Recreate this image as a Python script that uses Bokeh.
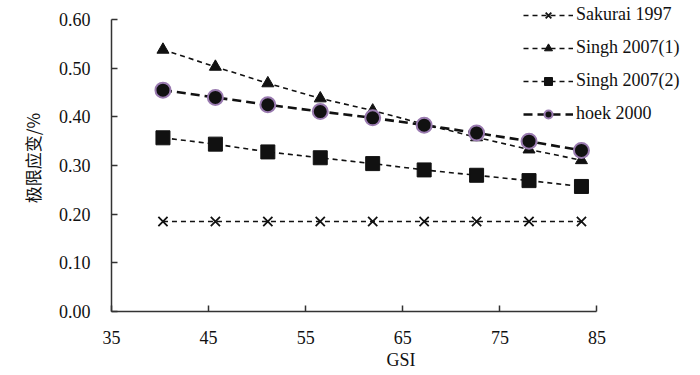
from bokeh.plotting import figure
from bokeh.models import Legend, LegendItem, FixedTicker, Range1d, ColumnDataSource
from bokeh.embed import file_html
from bokeh.resources import INLINE

gsi = [40.3, 45.7, 51.1, 56.5, 61.9, 67.2, 72.6, 78.0, 83.4]
sakurai_1997 = [0.185, 0.185, 0.185, 0.185, 0.185, 0.185, 0.185, 0.185, 0.185]
singh_2007_1 = [0.538, 0.503, 0.469, 0.438, 0.413, 0.385, 0.358, 0.333, 0.311]
singh_2007_2 = [0.357, 0.344, 0.328, 0.316, 0.304, 0.291, 0.280, 0.269, 0.257]
hoek_2000 = [0.455, 0.440, 0.425, 0.411, 0.398, 0.383, 0.367, 0.350, 0.331]

x_ticks = [35, 45, 55, 65, 75, 85]
y_ticks = [0.0, 0.1, 0.2, 0.3, 0.4, 0.5, 0.6]

SERIF = "Liberation Serif"

# frame is extended to the right/top so the legend can sit beyond the axis ends;
# the axis lines are bounded to the tick range
p = figure(width=690, height=365, output_backend="svg", toolbar_location=None,
           x_range=Range1d(35, 94.63), y_range=Range1d(0, 0.631),
           frame_width=579, frame_height=307,
           min_border_left=111, min_border_top=4, min_border_right=0, min_border_bottom=54)
p.outline_line_color = None
p.xgrid.visible = False
p.ygrid.visible = False
p.background_fill_color = "white"

for ax in (p.xaxis[0], p.yaxis[0]):
    ax.axis_line_color = "#333333"
    ax.axis_line_width = 1.5
    ax.major_tick_line_color = "#333333"
    ax.major_tick_line_width = 1.5
    ax.major_tick_in = 6
    ax.major_tick_out = 0
    ax.minor_tick_line_color = None
    ax.major_label_text_font = SERIF
    ax.major_label_text_font_size = "18px"
    ax.major_label_text_color = "#111111"
    ax.axis_label_text_font_style = "normal"
    ax.axis_label_text_color = "#111111"

p.xaxis.bounds = (35, 85)
p.yaxis.bounds = (0, 0.6)
p.xaxis.ticker = FixedTicker(ticks=x_ticks)
p.yaxis.ticker = FixedTicker(ticks=y_ticks)
p.yaxis.major_label_overrides = {t: f"{t:.2f}" for t in y_ticks}
p.xaxis.major_label_standoff = 19
p.yaxis.major_label_standoff = 21
p.xaxis.axis_label = "GSI"
p.xaxis.axis_label_text_font = SERIF
p.xaxis.axis_label_text_font_size = "18px"
p.xaxis.axis_label_standoff = 3
p.yaxis.axis_label = "极限应变/%"
p.yaxis.axis_label_text_font = "Noto Sans CJK SC"
p.yaxis.axis_label_text_font_size = "17px"
p.yaxis.axis_label_standoff = 11

src = ColumnDataSource(dict(x=gsi, s1=sakurai_1997, s2=singh_2007_1, s3=singh_2007_2, s4=hoek_2000))

l1 = p.line("x", "s1", source=src, line_color="#111111", line_width=1.6, line_dash="5 4")
m1 = p.scatter("x", "s1", source=src, marker="x", size=13, line_color="#111111", line_width=1.8)

l2 = p.line("x", "s2", source=src, line_color="#111111", line_width=1.6, line_dash="5 4")
m2 = p.scatter("x", "s2", source=src, marker="triangle", size=12, fill_color="#111111", line_color="#111111")

l3 = p.line("x", "s3", source=src, line_color="#111111", line_width=1.6, line_dash="5 4")
m3 = p.scatter("x", "s3", source=src, marker="square", size=14, fill_color="#111111", line_color="#111111")

l4 = p.line("x", "s4", source=src, line_color="#111111", line_width=2.6, line_dash="9 5")
m4 = p.scatter("x", "s4", source=src, marker="circle", size=15, fill_color="#111111",
               line_color="#9a7bb0", line_width=2)

legend = Legend(items=[
    LegendItem(label="Sakurai 1997", renderers=[l1, m1]),
    LegendItem(label="Singh 2007(1)", renderers=[l2, m2]),
    LegendItem(label="Singh 2007(2)", renderers=[l3, m3]),
    LegendItem(label="hoek 2000", renderers=[l4, m4]),
], location=(412, 187))
legend.label_text_font = SERIF
legend.label_text_font_size = "18px"
legend.label_text_color = "#111111"
legend.glyph_width = 50
legend.glyph_height = 20
legend.spacing = 12
legend.padding = 0
legend.margin = 0
legend.label_standoff = 3
legend.border_line_color = None
legend.background_fill_alpha = 0
p.add_layout(legend, "center")

open("out.html", "w").write(file_html(p, INLINE))
